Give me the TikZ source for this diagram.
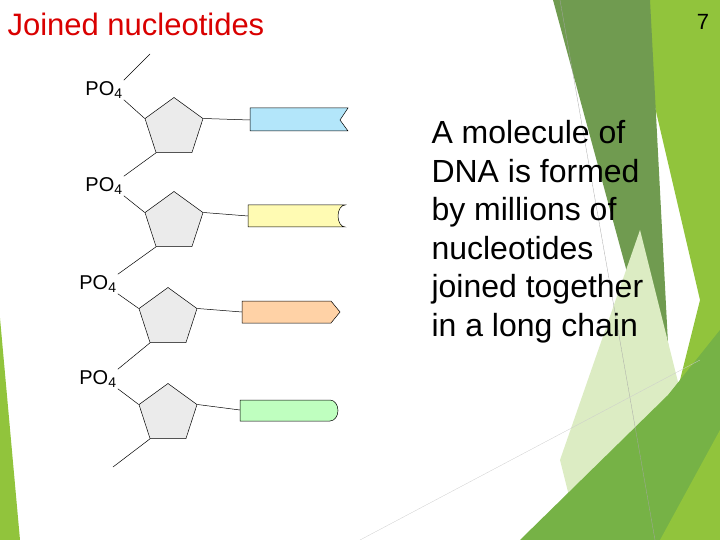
\documentclass[tikz,border=0pt]{standalone}
\usepackage{fontspec}
\setmainfont{Liberation Sans}
\usetikzlibrary{shapes.geometric}
\definecolor{darkband}{RGB}{112,155,80}
\definecolor{limeband}{RGB}{145,196,60}
\definecolor{paleband}{RGB}{220,236,195}
\definecolor{midband}{RGB}{118,178,70}
\definecolor{sugargray}{RGB}{235,235,235}
\begin{document}
\begin{tikzpicture}[x=1pt,y=-1pt,
  sugar/.style = {draw, fill=sugargray, line width=0.5pt},
  bond/.style = {line width=0.5pt},
  po/.style = {font=\fontsize{20}{22}\selectfont, inner sep=1pt},
  basebox/.style = {line width=0.5pt}]
\useasboundingbox (0,0) rectangle (720,540);
% background
\fill[limeband] (630,0) -- (720,0) -- (720,540) -- (640,540) -- (700,300) -- cycle;
\fill[darkband] (553,0) -- (650,0) -- (672,420) -- (665,412) -- cycle;
\fill[paleband] (560,460) -- (640,230) -- (690,430) -- (580,540) -- cycle;
\fill[midband] (520,540) -- (668,395) -- (720,330) -- (720,540) -- cycle;
\fill[limeband] (660,540) -- (720,430) -- (720,540) -- cycle;
\fill[limeband] (0,318) -- (20,540) -- (0,540) -- cycle;
\draw[gray!70, line width=0.3pt] (560,0) -- (655,540);
\draw[gray!40, line width=0.3pt] (360,540) -- (700,360);
% title
\node[anchor=west, text=red!85!black, font=\fontsize{31}{34}\selectfont] (title) at (4,24) {Joined nucleotides};
\node[font=\fontsize{22}{24}\selectfont] (pg) at (703,22) {7};
% sugars
\foreach \n/\x/\y in {1/174/128, 2/174/222, 3/168/318, 4/168/414}
  \node[sugar, regular polygon, regular polygon sides=5, minimum size=61pt, inner sep=0pt] (s\n) at (\x,\y) {};
% phosphates
\node[po] (p1) at (104,90) {PO\textsubscript{4}};
\node[po] (p2) at (104,186) {PO\textsubscript{4}};
\node[po] (p3) at (98,284) {PO\textsubscript{4}};
\node[po] (p4) at (98,379) {PO\textsubscript{4}};
\coordinate (top) at (150,54);
\coordinate (end) at (113,467);
\draw[bond] (p1.north east) -- (top);
\foreach \n in {1,...,4} \draw[bond] (p\n.south east) -- (s\n.corner 2);
\draw[bond] (s1.corner 3) -- (p2.north east);
\draw[bond] (s2.corner 3) -- (p3.north east);
\draw[bond] (s3.corner 3) -- (p4.north east);
\draw[bond] (s4.corner 3) -- (end);
% bases
\coordinate (b1) at (250,120);
\coordinate (b2) at (248,216);
\coordinate (b3) at (242,312);
\coordinate (b4) at (240,410);
\foreach \n in {1,...,4} \draw[bond] (s\n.corner 5) -- (b\n);
\filldraw[basebox, fill=cyan!30] (250,108) -- (348,108) -- (340,120) -- (348,131) -- (250,131) -- cycle;
\filldraw[basebox, fill=yellow!30] (248,205) -- (345,205) arc[start angle=-90, end angle=-270, x radius=7, y radius=11] -- (248,227) -- cycle;
\filldraw[basebox, fill=orange!35] (242,301) -- (331,301) -- (340,312) -- (331,323) -- (242,323) -- cycle;
\filldraw[basebox, fill=green!25] (240,400) -- (330,400) arc[start angle=-90, end angle=90, x radius=8, y radius=10.5] -- (240,421) -- cycle;
% text
\node[anchor=north west, align=left, font=\fontsize{32}{38.5}\selectfont] (txt) at (428,117)
 {A molecule of\\DNA is formed\\by millions of\\nucleotides\\joined together\\in a long chain};
\end{tikzpicture}
\end{document}
